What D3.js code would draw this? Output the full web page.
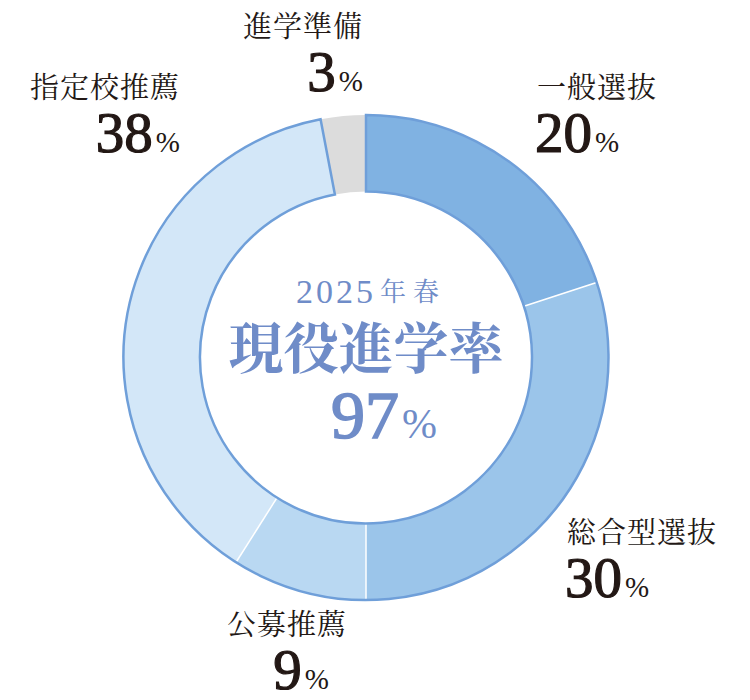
<!DOCTYPE html>
<html>
<head>
<meta charset="utf-8">
<script src="https://cdn.jsdelivr.net/npm/d3@7"></script>
<style>
  body { margin: 0; background: #fff; }
</style>
</head>
<body>
<svg id="chart" width="750" height="700"></svg>
<script>
const categories = ["一般選抜", "総合型選抜", "公募推薦", "指定校推薦", "進学準備"];
const values = [20, 30, 9, 38, 3];
const colors = ["#80b2e2", "#9bc5ea", "#b9d8f2", "#d3e7f8", "#dcdcdc"];
const centerYear = "2025";
const centerSeason = ["年", "春"];
const centerLabel = "現役進学率";
const centerValue = 97;

// where each label block sits (anchor x, label baseline y, anchor)
const labelPos = [
  { x: 537, y: 98, anchor: "start", vx: 535 },
  { x: 567, y: 543, anchor: "start", vx: 565 },
  { x: 287, y: 635, anchor: "middle", vx: 301 },
  { x: 180, y: 98, anchor: "end", vx: 180 },
  { x: 363, y: 37, anchor: "end", vx: 363 },
];

const svg = d3.select("#chart"),
  cx = 366,
  cy = 357.5,
  outerR = 242.5,
  innerR = 166;

const jp = "'Noto Serif CJK JP', 'Noto Sans CJK JP', sans-serif";
const num = "'Liberation Serif', 'DejaVu Serif', serif";

const pie = d3.pie().sort(null).value((d) => d);
const arcs = pie(values);
const arc = d3.arc().innerRadius(innerR).outerRadius(outerR);

const g = svg.append("g").attr("transform", `translate(${cx},${cy})`);

// slices
g.selectAll("path.slice")
  .data(arcs)
  .join("path")
  .attr("class", "slice")
  .attr("d", arc)
  .attr("fill", (d, i) => colors[i]);

// white separators between the blue slices
const last = arcs.length - 1;
g.selectAll("line.sep")
  .data(arcs.slice(1, last))
  .join("line")
  .attr("class", "sep")
  .attr("x1", (d) => innerR * Math.sin(d.startAngle))
  .attr("y1", (d) => -innerR * Math.cos(d.startAngle))
  .attr("x2", (d) => outerR * Math.sin(d.startAngle))
  .attr("y2", (d) => -outerR * Math.cos(d.startAngle))
  .attr("stroke", "#fff")
  .attr("stroke-width", 1.5);

// blue outline around the blue part of the ring
g.append("path")
  .attr("d", arc({ startAngle: 0, endAngle: arcs[last].startAngle }))
  .attr("fill", "none")
  .attr("stroke", "#6f9fd9")
  .attr("stroke-width", 2.5);

// center text
const blue = "#6f8cc8";
const center = svg.append("g").attr("fill", blue);
center.append("text")
  .attr("x", 296)
  .attr("y", 303)
  .attr("font-family", num)
  .attr("font-size", 34)
  .attr("letter-spacing", 3)
  .text(centerYear);
center.selectAll("text.season")
  .data(centerSeason)
  .join("text")
  .attr("class", "season")
  .attr("x", (d, i) => 380 + i * 33)
  .attr("y", 301)
  .attr("font-family", jp)
  .attr("font-size", 26)
  .text((d) => d);

center.append("text")
  .attr("x", cx)
  .attr("y", 368)
  .attr("text-anchor", "middle")
  .attr("font-family", jp)
  .attr("font-size", 55)
  .attr("font-weight", "bold")
  .text(centerLabel);

const t3 = center.append("text").attr("x", 331).attr("y", 438);
t3.append("tspan")
  .attr("font-family", num)
  .attr("font-size", 68)
  .attr("stroke", blue)
  .attr("stroke-width", 1.6)
  .text(centerValue);
t3.append("tspan").attr("font-family", num).attr("font-size", 42).attr("dx", 3).text("%");

// outer labels
const labels = svg.append("g").attr("fill", "#231815");
categories.forEach((c, i) => {
  const p = labelPos[i];
  labels.append("text")
    .attr("x", p.x)
    .attr("y", p.y)
    .attr("text-anchor", p.anchor)
    .attr("font-family", jp)
    .attr("font-size", 29)
    .attr("letter-spacing", 1)
    .text(c);
  const v = labels.append("text")
    .attr("x", p.vx)
    .attr("y", p.y + 54)
    .attr("text-anchor", p.anchor);
  v.append("tspan")
    .attr("font-family", num)
    .attr("font-size", 57)
    .attr("stroke", "#231815")
    .attr("stroke-width", 1.2)
    .text(values[i]);
  v.append("tspan").attr("font-family", num).attr("font-size", 29).attr("dx", 3).text("%");
});
</script>
</body>
</html>
